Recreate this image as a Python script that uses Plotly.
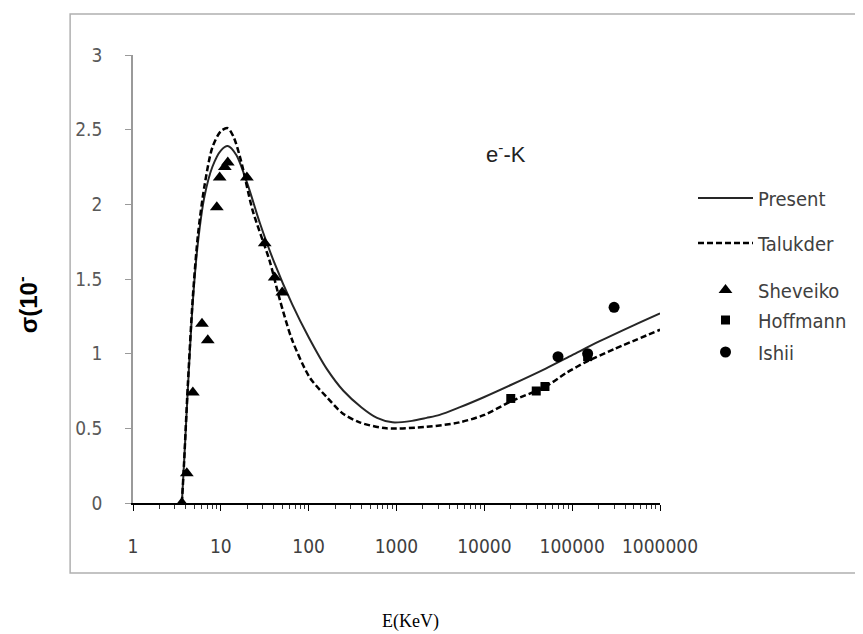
import plotly.graph_objects as go

# ---------------- data ----------------
present_E = [3.6, 3.8, 4.2, 4.8, 5.5, 6.5, 8, 10, 12, 15, 20, 28, 40, 65, 100, 160,
             250, 400, 600, 900, 1500, 2200, 3100, 5200, 10000, 20000, 50000,
             100000, 200000, 500000, 1000000]
present_sigma = [0, 0.25, 0.75, 1.35, 1.75, 2.05, 2.25, 2.36, 2.39, 2.33, 2.14, 1.87,
                 1.62, 1.33, 1.11, 0.90, 0.75, 0.64, 0.57, 0.54, 0.55, 0.57, 0.59,
                 0.64, 0.71, 0.79, 0.90, 0.99, 1.08, 1.19, 1.27]

talukder_E = [3.6, 3.8, 4.2, 4.8, 5.5, 6.5, 8, 10, 12, 14, 17, 23, 36, 47, 65, 103,
              160, 244, 380, 770, 2200, 5200, 10000, 20000, 50000, 85000, 150000,
              300000, 1000000]
talukder_sigma = [0, 0.25, 0.78, 1.38, 1.80, 2.12, 2.38, 2.49, 2.51, 2.45, 2.29, 1.96,
                  1.62, 1.36, 1.09, 0.84, 0.71, 0.60, 0.54, 0.50, 0.51, 0.54, 0.59,
                  0.68, 0.78, 0.87, 0.95, 1.03, 1.16]

sheveiko_E = [3.6, 4.1, 4.8, 6.1, 7.1, 9.0, 9.7, 11.1, 12, 19.8, 31.6, 41, 50]
sheveiko_sigma = [0.0, 0.20, 0.74, 1.20, 1.09, 1.98, 2.18, 2.25, 2.28, 2.18, 1.74, 1.51, 1.41]

hoffmann_E = [20000, 39000, 49000, 150000]
hoffmann_sigma = [0.70, 0.75, 0.78, 0.98]

ishii_E = [69000, 150000, 300000]
ishii_sigma = [0.98, 1.00, 1.31]

x_tickvals = [1, 10, 100, 1000, 10000, 100000, 1000000]
x_ticktext = ["1", "10", "100", "1000", "10000", "100000", "1000000"]
y_tickvals = [0, 0.5, 1, 1.5, 2, 2.5, 3]
y_ticktext = ["0", "0.5", "1", "1.5", "2", "2.5", "3"]

# ---------------- figure ----------------
NARROW = "Liberation Sans Narrow, DejaVu Sans Condensed, Arial Narrow, sans-serif"

fig = go.Figure()
fig.add_trace(go.Scatter(x=present_E, y=present_sigma, mode="lines", name="Present",
                         line=dict(color="#262626", width=2, shape="spline", smoothing=0.8),
                         legend="legend"))
fig.add_trace(go.Scatter(x=talukder_E, y=talukder_sigma, mode="lines", name="Talukder",
                         line=dict(color="black", width=2.5, dash="6px,3px", shape="spline", smoothing=0.8),
                         legend="legend2"))
fig.add_trace(go.Scatter(x=sheveiko_E, y=sheveiko_sigma, mode="markers", name="Sheveiko",
                         marker=dict(symbol="triangle-up", size=12, color="black"), legend="legend3"))
fig.add_trace(go.Scatter(x=hoffmann_E, y=hoffmann_sigma, mode="markers", name="Hoffmann",
                         marker=dict(symbol="square", size=9, color="black"), legend="legend4"))
fig.add_trace(go.Scatter(x=ishii_E, y=ishii_sigma, mode="markers", name="Ishii",
                         marker=dict(symbol="circle", size=11, color="black"), legend="legend5"))

OFF = 8                      # page body margin of the html page
L, R, T, B = 133, 661, 55, 503   # plot area in page pixels
W, H = 863 - OFF, 634 - OFF
pw, ph = R - L, B - T

def px_x(p):
    return (p - L) / pw

def px_y(p):
    return (B - p) / ph

legend_common = dict(xanchor="left", yanchor="middle", bgcolor="rgba(0,0,0,0)",
                     font=dict(family=NARROW, size=20, color="#404040"),
                     itemwidth=55, borderwidth=0)
legend_rows = [198, 243, 290, 320, 352]
layout_legends = {}
for i, row in enumerate(legend_rows):
    key = "legend" if i == 0 else f"legend{i+1}"
    layout_legends[key] = dict(x=px_x(693), y=px_y(row), **legend_common)

fig.update_layout(
    width=W, height=H,
    margin=dict(l=L - OFF, r=(W + OFF) - R, t=T - OFF, b=(H + OFF) - B),
    paper_bgcolor="white", plot_bgcolor="white",
    showlegend=True,
    **layout_legends,
    xaxis=dict(type="log", range=[0, 6], tickvals=x_tickvals, ticktext=x_ticktext,
               showgrid=False, zeroline=False, showline=True, linecolor="black", linewidth=1.5,
               ticks="outside", ticklen=6, tickcolor="black",
               minor=dict(ticks="outside", ticklen=4, tickcolor="#333", dtick="D1", showgrid=False),
               tickfont=dict(family=NARROW, size=19, color="#404040"),
               ticklabelstandoff=19),
    yaxis=dict(range=[0, 3], tickvals=y_tickvals, ticktext=y_ticktext,
               showgrid=False, zeroline=False, showline=True, linecolor="#9a9a9a", linewidth=1.5,
               ticks="outside", ticklen=6, tickcolor="#9a9a9a",
               tickfont=dict(family=NARROW, size=19, color="#595959"),
               ticklabelstandoff=19),
)

# outer chart-area border
fig.add_shape(type="rect", xref="paper", yref="paper",
              x0=px_x(70), x1=px_x(900), y0=px_y(573), y1=px_y(14),
              line=dict(color="#b0b0b0", width=1.5), fillcolor="rgba(0,0,0,0)", layer="below")

# texts
fig.add_annotation(text="e<sup>-</sup>-K", xref="paper", yref="paper",
                   x=px_x(507), y=px_y(153), xanchor="center", yanchor="middle", showarrow=False,
                   font=dict(family="Liberation Sans, Arial, sans-serif", size=22, color="#222"))
fig.add_annotation(text="<b>σ(10<sup>-</sup></b>", xref="paper", yref="paper",
                   x=px_x(27), y=px_y(305), xanchor="center", yanchor="middle",
                   showarrow=False, textangle=-90,
                   font=dict(family="Liberation Sans, Arial, sans-serif", size=24, color="black"))
fig.add_annotation(text="E(KeV)", xref="paper", yref="paper",
                   x=px_x(411), y=px_y(621), xanchor="center", yanchor="middle", showarrow=False,
                   font=dict(family="Liberation Serif, Times New Roman, serif", size=18, color="black"))

fig.write_html("out.html")
